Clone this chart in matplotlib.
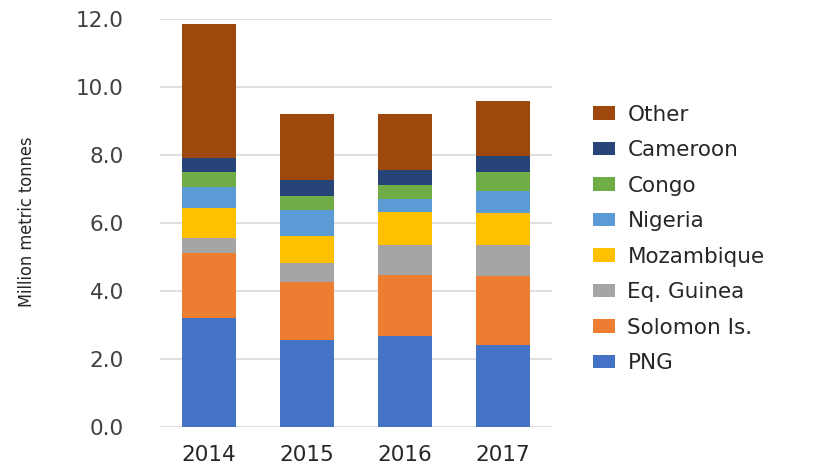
import matplotlib
matplotlib.use("Agg")
import matplotlib.pyplot as plt
import numpy as np

years = ["2014", "2015", "2016", "2017"]
series_names = ["PNG", "Solomon Is.", "Eq. Guinea", "Mozambique", "Nigeria", "Congo", "Cameroon", "Other"]
png = [3.19, 2.55, 2.67, 2.41]
solomon = [1.93, 1.72, 1.80, 2.03]
eq_guinea = [0.43, 0.54, 0.88, 0.91]
mozambique = [0.88, 0.81, 0.98, 0.93]
nigeria = [0.64, 0.77, 0.36, 0.67]
congo = [0.44, 0.39, 0.43, 0.56]
cameroon = [0.41, 0.49, 0.44, 0.46]
other = [3.95, 1.95, 1.65, 1.63]
colors = ["#4472C4", "#ED7D31", "#A5A5A5", "#FFC000", "#5B9BD5", "#70AD47", "#264478", "#9E480E"]
yticks = [0, 2, 4, 6, 8, 10, 12]

values = [png, solomon, eq_guinea, mozambique, nigeria, congo, cameroon, other]

fig = plt.figure(figsize=(8.4, 4.67), dpi=100)
ax = fig.add_axes([0.1905, 0.0863, 0.4667, 0.8727])

x = np.arange(len(years))
bottom = np.zeros(len(years))
handles = []
for name, vals, c in zip(series_names, values, colors):
    h = ax.bar(x, vals, width=0.56, bottom=bottom, color=c, label=name, zorder=3)
    handles.append(h)
    bottom += np.array(vals)

ax.set_ylim(0, 12)
ax.set_xlim(-0.5, 3.5)
ax.set_yticks(yticks)
ax.set_yticklabels([f"{v:.1f}" for v in yticks], fontsize=15.5, color="#404040")
ax.set_xticks(x)
ax.set_xticklabels(years, fontsize=15.5, color="#262626")
ax.tick_params(axis="both", length=0)
ax.tick_params(axis="y", pad=26)
ax.tick_params(axis="x", pad=13)
for s in ax.spines.values():
    s.set_visible(False)
ax.yaxis.grid(True, color="#D9D9D9", linewidth=1.2, zorder=0)
ax.set_axisbelow(True)

fig.text(0.032, 0.525, "Million metric tonnes", rotation=90, fontsize=13,
         fontstretch="condensed", color="#262626", ha="center", va="center")

leg = fig.legend(handles[::-1], series_names[::-1], loc="upper left",
                 bbox_to_anchor=(0.706, 0.776), frameon=False, fontsize=15.5,
                 handlelength=1.0, handleheight=0.6, labelspacing=0.72,
                 handletextpad=0.6, borderpad=0, borderaxespad=0)
for t in leg.get_texts():
    t.set_color("#262626")

fig.savefig("out.png", dpi=100)
